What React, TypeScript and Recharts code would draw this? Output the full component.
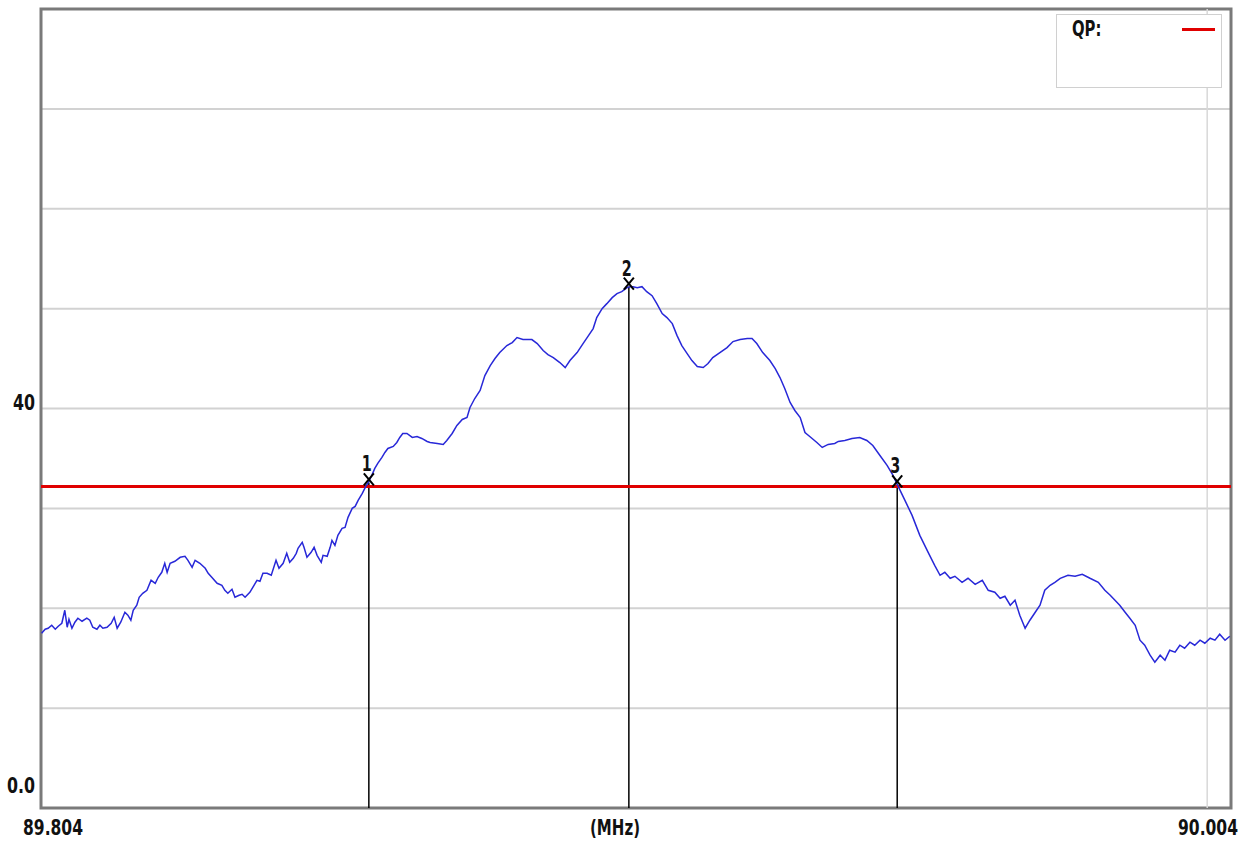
import React from 'react'
import { ComposedChart, Line, Scatter, XAxis, YAxis, CartesianGrid, ReferenceLine, ReferenceArea } from 'recharts'

// trace (MHz, dBuV)
const freq = [
  89.8041, 89.8047, 89.8052, 89.8058, 89.8064, 89.8069, 89.8075, 89.8080, 89.8084, 89.8087,
  89.8092, 89.8097, 89.8102, 89.8109, 89.8117, 89.8122, 89.8127, 89.8134, 89.8139, 89.8144,
  89.8151, 89.8158, 89.8163, 89.8168, 89.8174, 89.8181, 89.8186, 89.8191, 89.8195, 89.8201,
  89.8205, 89.8211, 89.8218, 89.8225, 89.8232, 89.8237, 89.8243, 89.8248, 89.8252, 89.8257,
  89.8265, 89.8274, 89.8282, 89.8287, 89.8294, 89.8299, 89.8307, 89.8316, 89.8321, 89.8327,
  89.8336, 89.8344, 89.8349, 89.8354, 89.8361, 89.8366, 89.8373, 89.8378, 89.8383, 89.8391,
  89.8396, 89.8403, 89.8408, 89.8413, 89.8420, 89.8427, 89.8435, 89.8440, 89.8447, 89.8453,
  89.8458, 89.8464, 89.8469, 89.8472, 89.8479, 89.8482, 89.8487, 89.8494, 89.8499, 89.8504,
  89.8511, 89.8514, 89.8521, 89.8526, 89.8529, 89.8534, 89.8539, 89.8546, 89.8551, 89.8556,
  89.8563, 89.8568, 89.8573, 89.8580, 89.8585, 89.8590, 89.8596, 89.8601, 89.8606, 89.8613,
  89.8618, 89.8623, 89.8632, 89.8638, 89.8643, 89.8648, 89.8655, 89.8664, 89.8672, 89.8680,
  89.8689, 89.8694, 89.8706, 89.8716, 89.8722, 89.8731, 89.8739, 89.8748, 89.8756, 89.8761,
  89.8769, 89.8778, 89.8786, 89.8795, 89.8803, 89.8811, 89.8823, 89.8832, 89.8840, 89.8850,
  89.8865, 89.8874, 89.8884, 89.8892, 89.8901, 89.8912, 89.8921, 89.8929, 89.8941, 89.8951,
  89.8959, 89.8968, 89.8974, 89.8983, 89.8991, 89.9000, 89.9008, 89.9016, 89.9025, 89.9030,
  89.9035, 89.9042, 89.9050, 89.9058, 89.9067, 89.9075, 89.9084, 89.9092, 89.9101, 89.9109,
  89.9117, 89.9126, 89.9134, 89.9143, 89.9153, 89.9161, 89.9169, 89.9181, 89.9193, 89.9203,
  89.9215, 89.9227, 89.9235, 89.9243, 89.9253, 89.9265, 89.9274, 89.9282, 89.9290, 89.9299,
  89.9307, 89.9316, 89.9324, 89.9332, 89.9344, 89.9353, 89.9363, 89.9374, 89.9380, 89.9391,
  89.9403, 89.9416, 89.9428, 89.9438, 89.9450, 89.9462, 89.9472, 89.9479, 89.9492, 89.9504,
  89.9517, 89.9531, 89.9542, 89.9551, 89.9559, 89.9568, 89.9576, 89.9588, 89.9598, 89.9610,
  89.9622, 89.9632, 89.9643, 89.9652, 89.9660, 89.9669, 89.9677, 89.9685, 89.9694, 89.9702,
  89.9711, 89.9719, 89.9727, 89.9736, 89.9744, 89.9753, 89.9766, 89.9778, 89.9790, 89.9803,
  89.9817, 89.9828, 89.9837, 89.9845, 89.9853, 89.9862, 89.9870, 89.9879, 89.9887, 89.9895,
  89.9904, 89.9912, 89.9921, 89.9929, 89.9937, 89.9946, 89.9954, 89.9962, 89.9971, 89.9979,
  89.9988, 89.9996, 90.0005, 90.0013, 90.0021, 90.0030, 90.0038,
]

const level = [
  17.5, 17.9, 18.0, 18.3, 17.9, 18.2, 18.5, 19.8, 18.1, 18.9,
  18.0, 18.6, 19.0, 18.7, 19.0, 18.8, 18.1, 17.9, 18.3, 18.0,
  18.1, 18.5, 19.1, 18.0, 18.6, 19.6, 19.3, 18.8, 19.8, 20.3,
  21.1, 21.5, 21.8, 22.8, 22.5, 23.1, 23.6, 24.5, 23.6, 24.5,
  24.7, 25.1, 25.2, 24.8, 24.1, 24.8, 24.5, 24.0, 23.5, 23.1,
  22.5, 22.3, 21.8, 21.5, 21.9, 21.1, 21.3, 21.4, 21.1, 21.6,
  22.1, 22.8, 22.7, 23.5, 23.5, 23.3, 24.8, 24.0, 24.5, 25.5,
  24.6, 25.0, 25.5, 26.0, 26.6, 26.1, 25.1, 25.6, 26.1, 25.3,
  24.6, 25.3, 25.2, 26.1, 26.8, 26.3, 27.3, 28.0, 28.1, 29.1,
  30.0, 30.2, 30.8, 31.5, 32.1, 32.6, 33.3, 34.0, 34.5, 35.1,
  35.6, 36.0, 36.2, 36.6, 37.1, 37.5, 37.5, 37.1, 37.2, 37.0,
  36.7, 36.6, 36.5, 36.4, 36.8, 37.5, 38.3, 38.9, 39.1, 40.1,
  41.0, 41.8, 43.3, 44.3, 45.0, 45.6, 46.3, 46.6, 47.1, 46.9,
  46.9, 46.5, 45.8, 45.4, 45.1, 44.6, 44.1, 44.8, 45.6, 46.5,
  47.2, 48.0, 49.1, 50.0, 50.5, 51.1, 51.5, 51.7, 52.1, 52.2,
  52.2, 52.1, 52.2, 51.7, 51.3, 50.5, 49.5, 49.1, 48.5, 47.3,
  46.3, 45.5, 44.8, 44.2, 44.1, 44.5, 45.1, 45.6, 46.1, 46.7,
  46.9, 47.0, 47.0, 46.5, 45.6, 44.8, 44.0, 43.1, 42.0, 40.6,
  39.8, 39.1, 37.6, 37.2, 36.6, 36.1, 36.4, 36.5, 36.7, 36.8,
  37.0, 37.1, 36.8, 36.3, 35.3, 34.3, 33.3, 32.4, 30.8, 29.3,
  27.3, 25.6, 24.3, 23.3, 23.6, 23.0, 23.2, 22.6, 23.0, 22.4,
  22.8, 21.8, 21.6, 21.0, 21.2, 20.3, 20.8, 19.3, 18.0, 18.8,
  19.6, 20.3, 21.8, 22.3, 22.6, 23.0, 23.3, 23.2, 23.4, 23.0,
  22.6, 21.8, 21.3, 20.8, 20.3, 19.6, 19.0, 18.3, 16.8, 16.3,
  15.3, 14.6, 15.3, 14.8, 15.8, 15.6, 16.3, 16.0, 16.6, 16.3,
  16.8, 16.5, 17.0, 16.8, 17.4, 16.8, 17.2,
]

const markerFreq = [89.8591, 89.9028, 89.9479]
const markerLevel = [32.6, 52.2, 32.4]
const markerLabel = ['1', '2', '3']

const qpLimit = 32.2
const yTicks = [0, 10, 20, 30, 40, 50, 60, 70, 80]
const xTicks = [89.804, 89.904, 90.004]

const trace = freq.map((f, i) => ({ f, level: level[i] }))
const markers = markerFreq.map((f, i) => ({ f, level: markerLevel[i], label: markerLabel[i] }))

const font = "'Liberation Sans Narrow', 'DejaVu Sans Condensed', 'DejaVu Sans', sans-serif"
const txt = { fontFamily: font, fontWeight: 'bold', fontSize: 22, fill: '#111', lengthAdjust: 'spacingAndGlyphs' }

const YTick = (props: any) => {
  const { y, payload } = props
  if (payload.value === 0) {
    return <text x={35} y={y - 15} textAnchor="end" textLength={28} {...txt}>0.0</text>
  }
  if (payload.value === 40) {
    return <text x={35} y={y + 1} textAnchor="end" textLength={22} {...txt}>40</text>
  }
  return null
}

const XTick = (props: any) => {
  const { x, payload } = props
  if (payload.value === xTicks[0]) return <text x={23} y={835} textAnchor="start" textLength={60} {...txt}>89.804</text>
  if (payload.value === xTicks[2]) return <text x={1178} y={835} textAnchor="start" textLength={60} {...txt}>90.004</text>
  return <text x={x - 21} y={835} textAnchor="middle" textLength={50} {...txt}>(MHz)</text>
}

const MarkerShape = (props: any) => {
  const { cx, cy, payload } = props
  const c = cy - 3
  return (
    <g>
      <line x1={cx - 5} y1={c - 6} x2={cx + 5} y2={c + 6} stroke="#000" strokeWidth={2} />
      <line x1={cx + 5} y1={c - 6} x2={cx - 5} y2={c + 6} stroke="#000" strokeWidth={2} />
      <text x={cx - 2} y={cy - 11} textAnchor="middle" textLength={10} {...txt}>
        {payload.label}
      </text>
    </g>
  )
}

export default function App() {
  return (
    <div style={{ position: 'absolute', left: 0, top: 0, width: 1250, height: 843, background: '#fff' }}>
      <ComposedChart width={1250} height={843} margin={{ top: 9, right: 19, bottom: 0, left: 0 }}>
        <CartesianGrid vertical={false} stroke="#d2d2d2" strokeWidth={2} />
        <XAxis
          type="number"
          dataKey="f"
          domain={[89.804, 90.004]}
          ticks={xTicks}
          tick={<XTick />}
          tickLine={false}
          axisLine={false}
          height={35}
          allowDataOverflow
        />
        <YAxis
          type="number"
          domain={[0, 80]}
          ticks={yTicks}
          tick={<YTick />}
          tickLine={false}
          axisLine={false}
          width={41}
          allowDataOverflow
        />
        <ReferenceLine x={90.0} stroke="#d8d8d8" strokeWidth={1.5} />
        {markers.map((m) => (
          <ReferenceLine
            key={m.label}
            segment={[{ x: m.f, y: 0 }, { x: m.f, y: m.level }]}
            stroke="#000"
            strokeWidth={1.5}
          />
        ))}
        <ReferenceLine y={qpLimit} stroke="#e00000" strokeWidth={3} />
        <Line
          data={trace}
          dataKey="level"
          type="linear"
          stroke="#2828d8"
          strokeWidth={1.5}
          dot={false}
          isAnimationActive={false}
        />
        <Scatter data={markers} dataKey="level" shape={<MarkerShape />} isAnimationActive={false} />
        <ReferenceArea x1={89.804} x2={90.004} y1={0} y2={80} fill="none" stroke="#7a7a7a" strokeWidth={3} />
      </ComposedChart>
      <div
        style={{
          position: 'absolute',
          left: 1056,
          top: 14,
          width: 164,
          height: 72,
          border: '1.5px solid #d0d0d0',
          background: '#fff',
          fontFamily: font,
          fontWeight: 'bold',
          fontSize: 22,
          color: '#111',
        }}
      >
        <span
          style={{
            position: 'absolute',
            left: 15,
            top: 1,
            display: 'inline-block',
            transform: 'scaleX(0.75)',
            transformOrigin: 'left center',
          }}
        >
          QP:
        </span>
        <span style={{ position: 'absolute', left: 125, top: 13, width: 33, height: 3, background: '#e00000' }} />
      </div>
    </div>
  )
}
